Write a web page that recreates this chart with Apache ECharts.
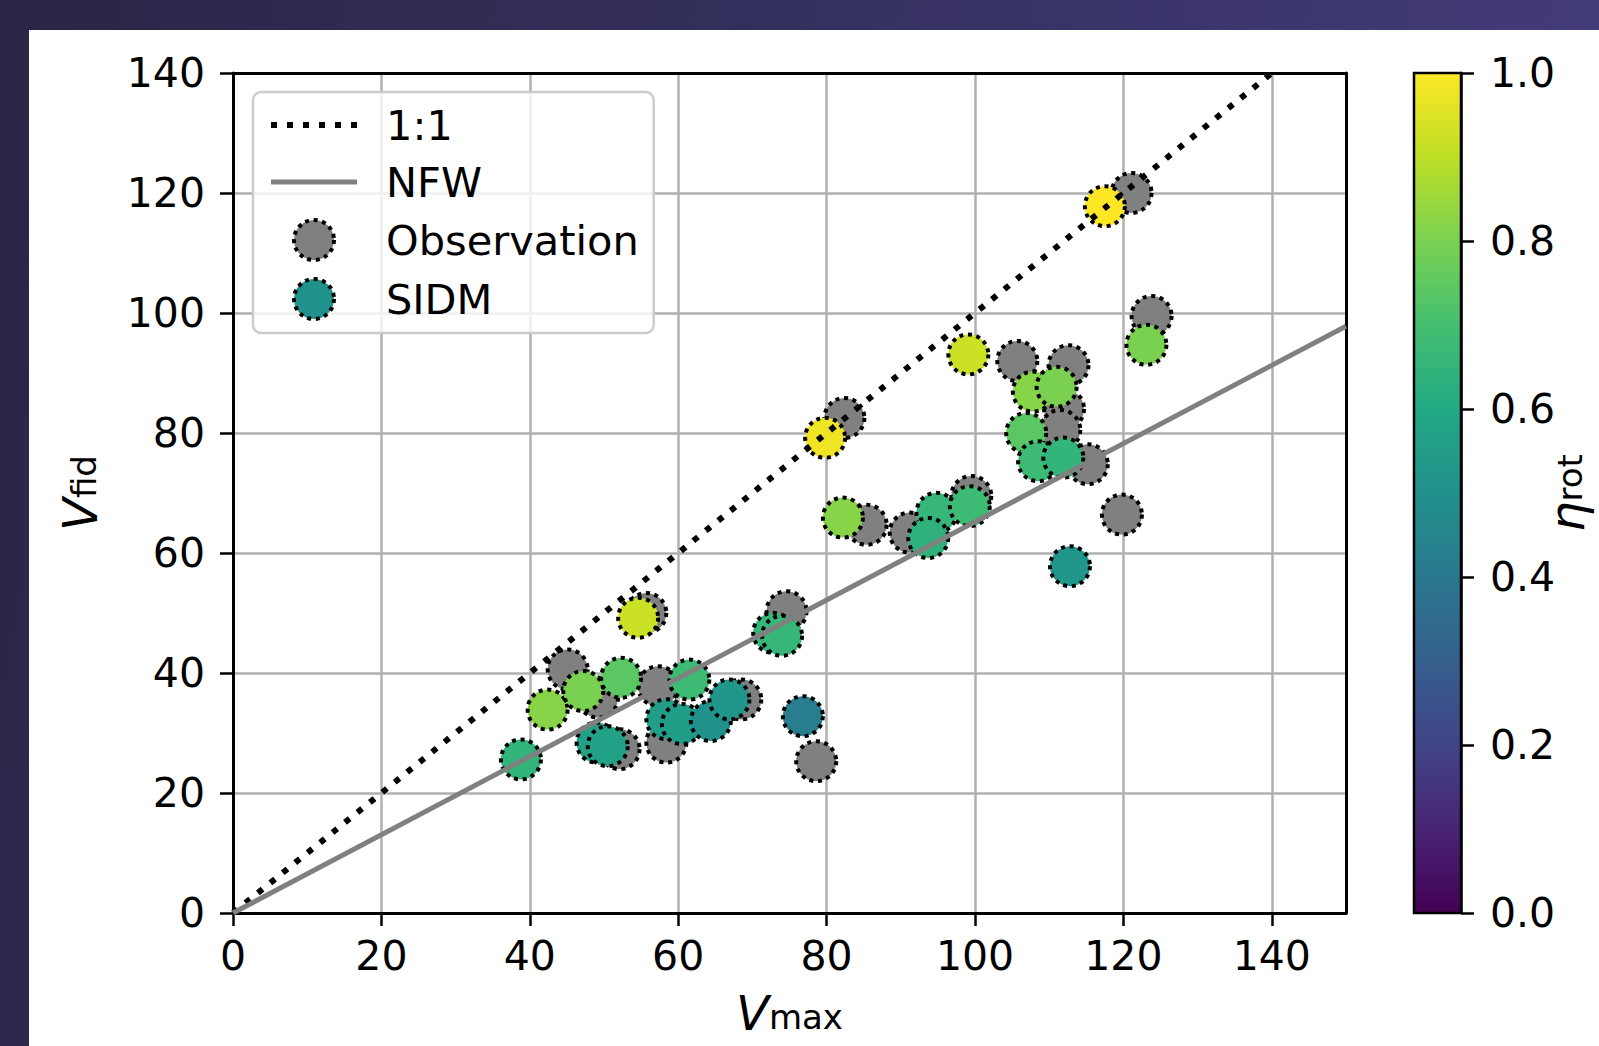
<!DOCTYPE html>
<html>
<head>
<meta charset="utf-8">
<script src="https://cdn.jsdelivr.net/npm/echarts@6/dist/echarts.min.js"></script>
<style>
  html, body { margin: 0; padding: 0; width: 1599px; height: 1046px; overflow: hidden; }
  body { background: linear-gradient(100deg, #2a2646 0%, #34305e 45%, #463e80 100%); }
  #panel { position: absolute; left: 29px; top: 30px; right: 0; bottom: 0; background: #ffffff; }
  #chart { position: absolute; left: 0; top: 0; width: 1599px; height: 1046px; }
</style>
</head>
<body>
<div id="panel"></div>
<div id="chart"></div>
<script>
// Observed galaxies: maximum circular velocity vs. velocity at the fiducial radius
const obsVmax = [121.1, 123.8, 105.7, 112.6, 112.0, 111.5, 115.2, 119.8, 82.4, 85.4, 91.2, 99.5,
                 55.7, 74.6, 45.1, 49.2, 57.3, 58.4, 68.5, 52.1, 78.6];
const obsVfid = [120.0, 99.5, 92.0, 91.3, 84.0, 80.5, 74.8, 66.4, 82.5, 64.7, 63.4, 69.5,
                 50.0, 50.3, 40.6, 35.9, 37.8, 28.4, 35.6, 27.3, 25.3];

// SIDM fits, coloured by eta_rot
const sidmVmax = [117.5, 79.8, 99.1, 107.8, 111.0, 106.9, 108.5, 111.9, 123.1, 82.2, 94.8, 99.3,
                  93.7, 112.8, 54.6, 72.8, 74.0, 38.8, 42.4, 47.2, 52.3, 61.5, 58.4, 60.5,
                  64.4, 66.9, 49.0, 50.5, 76.8];
const sidmVfid = [117.8, 79.2, 93.1, 86.9, 87.7, 80.0, 75.3, 75.9, 94.7, 65.9, 66.7, 67.8,
                  62.5, 57.8, 49.2, 46.7, 46.2, 25.6, 33.9, 37.0, 39.2, 38.9, 32.3, 31.5,
                  32.0, 35.6, 28.4, 27.8, 32.8];
const etaRot   = [1.00, 0.98, 0.92, 0.82, 0.80, 0.74, 0.68, 0.65, 0.80, 0.82, 0.66, 0.68,
                  0.64, 0.52, 0.92, 0.66, 0.66, 0.65, 0.82, 0.80, 0.74, 0.68, 0.55, 0.55,
                  0.50, 0.52, 0.57, 0.57, 0.42];

// Reference relations
const oneToOne = [[0, 0], [140, 140]];
const nfwLine  = [[0, 0], [150, 97.8]];

// Ticks
const xTicks = [0, 20, 40, 60, 80, 100, 120, 140];
const yTicks = [0, 20, 40, 60, 80, 100, 120, 140];
const cbarTicks = [0, 0.2, 0.4, 0.6, 0.8, 1.0];

const viridis = ['#440154', '#482475', '#414487', '#355f8d', '#2a788e', '#21918c',
                 '#22a884', '#44bf70', '#7ad151', '#bddf26', '#fde725'];

const FONT = 'DejaVu Sans';
const SPINE = 3;
const TICK_FONT = 41;
const dotBorder = { borderColor: '#000', borderWidth: 4, borderType: [4, 4.5] };
const oneToOneStyle = { color: '#000', width: 6, type: [6, 10] };
const nfwStyle = { color: '#808080', width: 5 };

const chart = echarts.init(document.getElementById('chart'), null, { renderer: 'svg' });

const axisCommon = {
  axisLine: { show: true, onZero: false, lineStyle: { color: '#000', width: SPINE } },
  axisTick: { show: true, inside: false, length: 13, lineStyle: { color: '#000', width: 2.5 } },
  splitLine: { show: true, lineStyle: { color: '#b0b0b0', width: 2.5 } },
  axisLabel: { color: '#000', fontFamily: FONT, fontSize: TICK_FONT }
};

const nameRich = {
  v: { fontFamily: FONT, fontStyle: 'italic', fontSize: 48, color: '#000', padding: [0, 0, 8, 0] },
  s: { fontFamily: FONT, fontSize: 34, color: '#000' }
};

// plain frame lines for the top and right spines
const spineOnly = {
  axisLine: { show: true, onZero: false, lineStyle: { color: '#000', width: SPINE } },
  axisTick: { show: false }, axisLabel: { show: false }, splitLine: { show: false }
};

const option = {
  animation: false,
  backgroundColor: 'transparent',
  grid: [
    { left: 233, top: 73, width: 1113, height: 840, show: false },
    { left: 1414, top: 73, width: 47, height: 840, show: true,
      backgroundColor: new echarts.graphic.LinearGradient(0, 0, 0, 1,
        viridis.slice().reverse().map((c, i) => ({ offset: i / (viridis.length - 1), color: c }))),
      borderColor: '#000', borderWidth: 2.5 }
  ],
  xAxis: [
    Object.assign({}, axisCommon, {
      gridIndex: 0, type: 'value', min: 0, max: 150, interval: 20,
      axisTick: Object.assign({}, axisCommon.axisTick, { customValues: xTicks }),
      axisLabel: Object.assign({}, axisCommon.axisLabel, { margin: 22, customValues: xTicks }),
      name: '{v|V}{s|max}', nameLocation: 'middle', nameGap: 76,
      nameTextStyle: { rich: nameRich }
    }),
    { gridIndex: 1, type: 'value', min: 0, max: 1, show: false },
    Object.assign({ gridIndex: 0, type: 'value', min: 0, max: 150, position: 'top' }, spineOnly)
  ],
  yAxis: [
    Object.assign({}, axisCommon, {
      gridIndex: 0, type: 'value', min: 0, max: 140, interval: 20,
      axisLabel: Object.assign({}, axisCommon.axisLabel, { margin: 28, customValues: yTicks }),
      name: '{v|V}{s|fid}', nameLocation: 'middle', nameRotate: 90, nameGap: 121,
      nameTextStyle: { rich: nameRich }
    }),
    {
      gridIndex: 1, type: 'value', position: 'right', min: 0, max: 1, interval: 0.2,
      axisLine: { show: true, onZero: false, lineStyle: { color: '#000', width: 2.5 } },
      axisTick: { show: true, inside: false, length: 13, customValues: cbarTicks,
                  lineStyle: { color: '#000', width: 2.5 } },
      splitLine: { show: false },
      axisLabel: { color: '#000', fontFamily: FONT, fontSize: TICK_FONT, margin: 28, customValues: cbarTicks,
                   padding: [0, 0, 0, 1], formatter: v => v.toFixed(1) },
      name: '{v|η}{s|rot}', nameLocation: 'middle', nameRotate: 90, nameGap: 82,
      nameMoveOverlap: false,
      nameTextStyle: { rich: {
        v: { fontFamily: FONT, fontStyle: 'italic', fontSize: 48, color: '#000', padding: [0, 0, 6, 0] },
        s: { fontFamily: FONT, fontSize: 34, color: '#000' }
      } }
    },
    Object.assign({ gridIndex: 0, type: 'value', min: 0, max: 140, position: 'right' }, spineOnly)
  ],
  visualMap: {
    type: 'continuous', show: false, min: 0, max: 1, dimension: 2, seriesIndex: 1,
    inRange: { color: viridis }
  },
  legend: {
    orient: 'vertical', left: 253, top: 92,
    itemWidth: 86, itemHeight: 40, itemGap: 15,
    padding: [12, 15, 12, 15],
    backgroundColor: 'rgba(255,255,255,0.8)', borderColor: '#cccccc', borderWidth: 2.5, borderRadius: 8,
    textStyle: { fontFamily: FONT, fontSize: 41.5, color: '#000', padding: [0, 0, 0, 24] },
    data: [
      { name: '1:1', itemStyle: { opacity: 0 }, lineStyle: oneToOneStyle },
      { name: 'NFW', itemStyle: { opacity: 0 }, lineStyle: nfwStyle },
      { name: 'Observation', itemStyle: Object.assign({ color: '#808080' }, dotBorder) },
      { name: 'SIDM', itemStyle: Object.assign({ color: '#21918c' }, dotBorder) }
    ]
  },
  series: [
    {
      name: 'Observation', type: 'scatter', xAxisIndex: 0, yAxisIndex: 0, z: 2,
      symbol: 'circle', symbolSize: 40,
      itemStyle: Object.assign({ color: '#808080', opacity: 1 }, dotBorder),
      emphasis: { disabled: true },
      data: obsVmax.map((v, i) => [v, obsVfid[i]])
    },
    {
      name: 'SIDM', type: 'scatter', xAxisIndex: 0, yAxisIndex: 0, z: 3,
      symbol: 'circle', symbolSize: 40,
      itemStyle: Object.assign({ color: '#21918c', opacity: 1 }, dotBorder),
      emphasis: { disabled: true },
      data: sidmVmax.map((v, i) => [v, sidmVfid[i], etaRot[i]])
    },
    {
      name: '1:1', type: 'line', xAxisIndex: 0, yAxisIndex: 0, z: 4,
      symbol: 'none', silent: true,
      lineStyle: oneToOneStyle,
      itemStyle: { color: '#000' },
      data: oneToOne
    },
    {
      name: 'NFW', type: 'line', xAxisIndex: 0, yAxisIndex: 0, z: 4,
      symbol: 'none', silent: true,
      lineStyle: nfwStyle,
      itemStyle: { color: '#808080' },
      data: nfwLine
    }
  ]
};

chart.setOption(option);
</script>
</body>
</html>
